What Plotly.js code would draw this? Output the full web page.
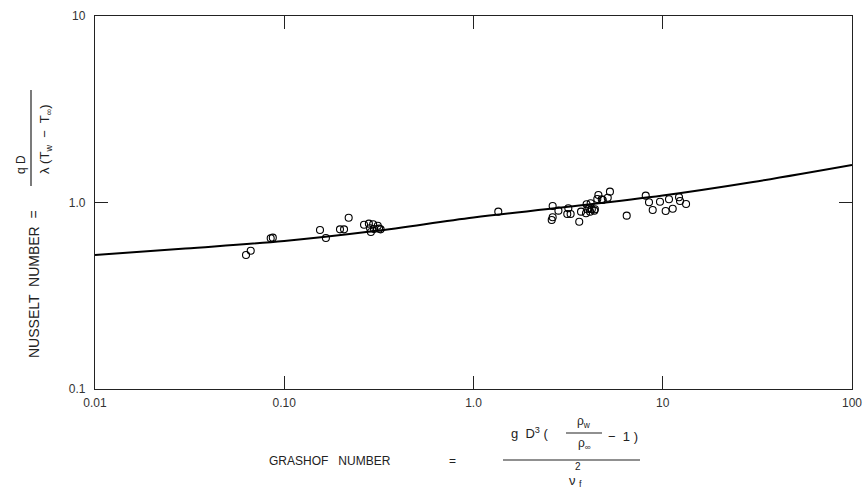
<!DOCTYPE html>
<html>
<head>
<meta charset="utf-8">
<script src="https://cdn.plot.ly/plotly-3.0.1.min.js"></script>
<style>html,body{margin:0;padding:0;background:#fff;}#chart{width:868px;height:490px;}</style>
</head>
<body>
<div id="chart"></div>
<script>
// Measured data points (Grashof number, Nusselt number)
const grashof = [0.0628,0.0665,0.0848,0.0870,0.1545,0.166,0.197,0.207,0.219,
  0.264,0.280,0.295,0.312,0.284,0.298,0.317,0.287,0.323,
  1.352,
  2.62,2.62,2.59,2.81,3.17,3.13,3.26,3.70,3.62,3.96,4.16,4.00,4.22,4.38,3.93,4.13,4.35,4.09,
  4.57,4.51,4.76,5.12,5.26,4.82,
  6.45,8.13,8.46,8.85,9.67,10.36,10.79,11.29,12.19,12.34,13.28];
const nusselt = [0.523,0.551,0.643,0.648,0.712,0.645,0.718,0.718,0.829,
  0.760,0.770,0.764,0.751,0.727,0.721,0.724,0.695,0.718,
  0.893,
  0.958,0.833,0.806,0.904,0.931,0.868,0.868,0.893,0.789,0.978,0.990,0.920,0.920,0.920,0.875,0.893,0.904,0.931,
  1.097,1.044,1.040,1.061,1.143,1.031,
  0.850,1.088,1.003,0.912,1.010,0.900,1.040,0.926,1.066,1.019,0.982];
// Correlation curve
const curveX = [0.01,0.03,0.1,0.3,1,3,10,30,100];
const curveY = [0.523,0.567,0.622,0.703,0.831,0.942,1.090,1.288,1.589];
// Tick labels
const xTickVals = [0.01,0.1,1,10,100];
const xTickText = ['0.01','0.10','1.0','10','100'];
const yTickVals = [0.1,1,10];
const yTickText = ['0.1','1.0','10'];

const W = 868, H = 490, L = 95, R = 16, T = 16, B = 101;
const pw = W - L - R, ph = H - T - B;
const px = x => (x - L) / pw;
const py = y => (H - B - y) / ph;
const fam = 'Liberation Sans, Arial, sans-serif';
const f = s => ({family: fam, size: s, color: '#222'});

function ann(text, x, y, size, opts) {
  return Object.assign({text: text, xref: 'paper', yref: 'paper', x: px(x), y: py(y),
    xanchor: 'center', yanchor: 'middle', showarrow: false, font: f(size)}, opts || {});
}
function bar(x0, y0, x1, y1) {
  return {type: 'line', xref: 'paper', yref: 'paper', x0: px(x0), y0: py(y0), x1: px(x1), y1: py(y1),
    line: {color: '#222', width: 1.2}};
}

const traces = [
  {x: curveX, y: curveY, mode: 'lines', line: {color: '#000', width: 2, shape: 'spline'}, hoverinfo: 'skip'},
  {x: grashof, y: nusselt, mode: 'markers',
   marker: {symbol: 'circle-open', size: 7, color: '#000', line: {width: 1.1, color: '#000'}}}
];

const axisCommon = {
  type: 'log', showgrid: false, zeroline: false, showline: true, mirror: 'ticks',
  linecolor: '#222', linewidth: 1.2, ticks: 'inside', ticklen: 13, tickwidth: 1, tickcolor: '#222',
  tickfont: {family: fam, size: 12, color: '#333'}
};

const layout = {
  width: W, height: H, margin: {l: L, r: R, t: T, b: B},
  paper_bgcolor: '#fff', plot_bgcolor: '#fff', showlegend: false,
  xaxis: Object.assign({}, axisCommon, {range: [-2, 2], tickvals: xTickVals, ticktext: xTickText, ticklabelstandoff: 2}),
  yaxis: Object.assign({}, axisCommon, {range: [-1, 1], tickvals: yTickVals, ticktext: yTickText, ticklabelstandoff: 6}),
  annotations: [
    ann('NUSSELT  NUMBER  =', 34, 284, 14, {textangle: -90}),
    ann('q D', 21, 165, 12, {textangle: -90}),
    ann('λ (T<sub>w</sub>  −  T<sub>∞</sub>)', 45, 139, 13, {textangle: -90}),
    ann('GRASHOF   NUMBER', 330, 461, 12),
    ann('=', 452, 461, 12),
    ann('g  D<sup>3</sup> (', 530, 433, 13),
    ann('ρ<sub>w</sub>', 584, 422, 12),
    ann('ρ<sub>∞</sub>', 584, 444, 12),
    ann('−  1 )', 623, 436, 13),
    ann('ν', 572, 480, 13),
    ann('2', 578, 467, 10),
    ann('f', 580, 484, 9)
  ],
  shapes: [
    bar(31, 90, 31, 186),
    bar(503, 460, 640, 460),
    bar(566, 433, 602, 433)
  ]
};

Plotly.newPlot('chart', traces, layout, {displayModeBar: false, staticPlot: true});
</script>
</body>
</html>
